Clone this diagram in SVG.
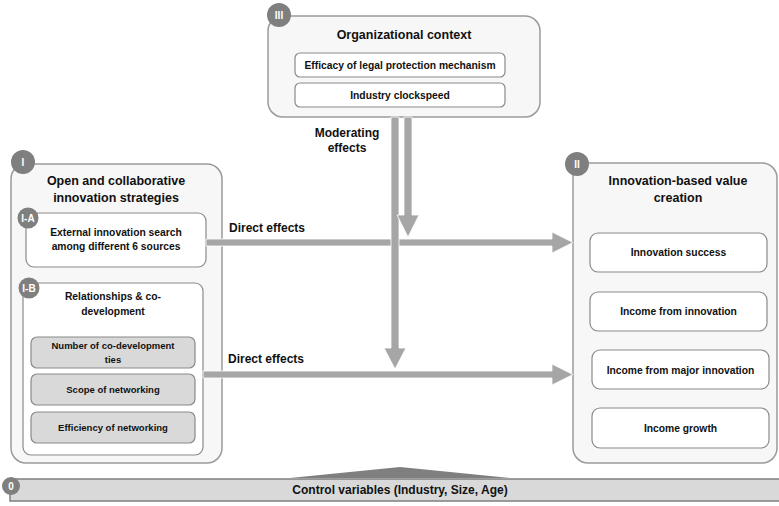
<svg xmlns="http://www.w3.org/2000/svg" width="779" height="506" viewBox="0 0 779 506">
  <style>
    text { font-family: "Liberation Sans", Arial, sans-serif; font-weight: bold; fill: #111; text-anchor: middle; }
    .outer { fill: #f7f7f7; stroke: #9a9a9a; stroke-width: 1.5; }
    .inner { fill: #ffffff; stroke: #8a8a8a; stroke-width: 1.2; }
    .grey { fill: #d9d9d9; stroke: #8a8a8a; stroke-width: 1.2; }
    .badge { fill: #7f7f7f; }
    .badge-t { fill: #ffffff; font-size: 10px; }
    .title { font-size: 12.5px; }
    .body { font-size: 10.3px; }
    .small { font-size: 9.5px; }
    .lbl { font-size: 12px; }
    .arrow { fill: #a6a6a6; stroke: #ffffff; stroke-width: 0.8; }
  </style>

  <!-- III: organizational context -->
  <g id="node-III">
    <rect class="outer" x="268" y="16" width="272" height="101" rx="15"/>
    <circle class="badge" cx="279" cy="15" r="12"/>
    <text class="badge-t" x="279" y="19">III</text>
    <text class="title" x="404" y="39">Organizational context</text>
    <rect class="inner" x="295" y="53" width="210" height="24" rx="5"/>
    <text class="body" x="400" y="69">Efficacy of legal protection mechanism</text>
    <rect class="inner" x="295" y="83" width="210" height="24" rx="5"/>
    <text class="body" x="400" y="99">Industry clockspeed</text>
  </g>

  <!-- I: open and collaborative innovation strategies -->
  <g id="node-I">
    <rect class="outer" x="11" y="164" width="211" height="299" rx="15"/>
    <circle class="badge" cx="23" cy="162" r="12"/>
    <text class="badge-t" x="23" y="166">I</text>
    <text class="title" x="116" y="185">Open and collaborative</text>
    <text class="title" x="116" y="202">innovation strategies</text>
  </g>

  <g id="node-IA">
    <rect class="inner" x="26" y="213" width="180" height="54" rx="8"/>
    <circle class="badge" cx="28" cy="218" r="10.5"/>
    <text class="badge-t" x="28" y="222">I-A</text>
    <text class="body" x="116" y="236">External innovation search</text>
    <text class="body" x="116" y="250">among different 6 sources</text>
  </g>

  <g id="node-IB">
    <rect class="inner" x="23" y="283" width="180" height="172" rx="8"/>
    <circle class="badge" cx="29" cy="288" r="10.5"/>
    <text class="badge-t" x="29" y="292">I-B</text>
    <text class="body" x="113" y="300">Relationships &amp; co-</text>
    <text class="body" x="113" y="315">development</text>
    <rect class="grey" x="31" y="337" width="164" height="31" rx="6"/>
    <text class="small" x="113" y="349">Number of co-development</text>
    <text class="small" x="113" y="363">ties</text>
    <rect class="grey" x="31" y="374" width="164" height="31" rx="6"/>
    <text class="small" x="113" y="393">Scope of networking</text>
    <rect class="grey" x="31" y="412" width="164" height="31" rx="6"/>
    <text class="small" x="113" y="431">Efficiency of networking</text>
  </g>

  <!-- II: innovation-based value creation -->
  <g id="node-II">
    <rect class="outer" x="573" y="163" width="204" height="300" rx="15"/>
    <circle class="badge" cx="577" cy="164" r="12"/>
    <text class="badge-t" x="577" y="168">II</text>
    <text class="title" x="678" y="185">Innovation-based value</text>
    <text class="title" x="678" y="202">creation</text>
    <rect class="inner" x="590" y="233" width="177" height="39" rx="8"/>
    <text class="body" x="678.5" y="256">Innovation success</text>
    <rect class="inner" x="590" y="292" width="177" height="39" rx="8"/>
    <text class="body" x="678.5" y="315">Income from innovation</text>
    <rect class="inner" x="592" y="350" width="177" height="39" rx="8"/>
    <text class="body" x="680.5" y="374">Income from major innovation</text>
    <rect class="inner" x="592" y="408" width="177" height="40" rx="8"/>
    <text class="body" x="680.5" y="432">Income growth</text>
  </g>

  <!-- 0: control variables -->
  <g id="node-0">
    <polygon points="290,478 400,467 510,478" fill="#7f7f7f"/>
    <rect x="10" y="479" width="771" height="22" fill="#d9d9d9" stroke="#7f7f7f" stroke-width="1.5"/>
    <circle class="badge" cx="11" cy="486" r="9"/>
    <text class="badge-t" x="11" y="490">0</text>
    <text class="lbl" x="400" y="494">Control variables (Industry, Size, Age)</text>
  </g>

  <!-- connectors: direct and moderating effects -->
  <g id="connectors">
    <polygon class="arrow" points="206,239 552,239 552,232 573,242.5 552,253 552,246 206,246"/>
    <polygon class="arrow" points="203,371 552,371 552,364 573,374.5 552,385 552,378 203,378"/>
    <polygon class="arrow" points="391,117 399,117 399,348 406,348 395,369 384,348 391,348"/>
    <polygon class="arrow" points="404,117 412,117 412,215 419,215 408,237 397,215 404,215"/>
    <text class="lbl" x="229" y="232" style="text-anchor:start">Direct effects</text>
    <text class="lbl" x="228" y="363" style="text-anchor:start">Direct effects</text>
    <text class="lbl" x="347" y="137">Moderating</text>
    <text class="lbl" x="347" y="152">effects</text>
  </g>
</svg>
